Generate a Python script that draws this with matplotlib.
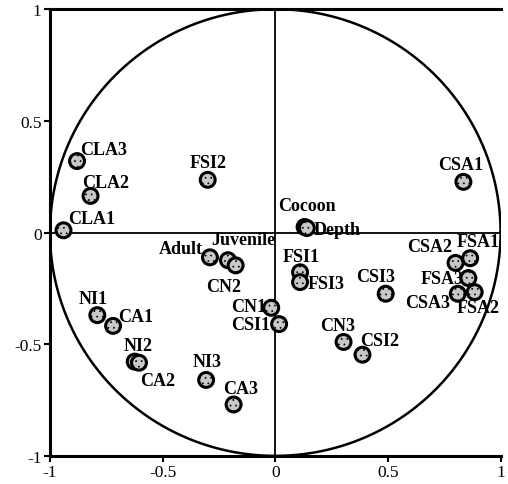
import matplotlib.pyplot as plt
import numpy as np

plt.rcParams['font.family'] = ['Liberation Serif', 'DejaVu Serif']
plt.rcParams['axes.unicode_minus'] = False
plt.rcParams['hatch.linewidth'] = 0.5

# variable coordinates on the correlation circle
labels = ['CLA3', 'CLA2', 'CLA1', 'FSI2', 'CSA1', 'Cocoon', 'Depth',
          'Adult', 'Juvenile', 'CN2', 'NI1', 'CA1', 'NI2', 'CA2', 'NI3', 'CA3',
          'CN1', 'CSI1', 'FSI1', 'FSI3', 'CSI3', 'CSA2', 'FSA1', 'FSA3',
          'CSA3', 'FSA2', 'CN3', 'CSI2']
x_vals = [-0.88, -0.82, -0.94, -0.30, 0.835, 0.13, 0.14,
          -0.29, -0.21, -0.176, -0.79, -0.72, -0.624, -0.605, -0.307, -0.185,
          -0.018, 0.017, 0.11, 0.11, 0.49, 0.80, 0.865, 0.857,
          0.81, 0.885, 0.303, 0.387]
y_vals = [0.32, 0.164, 0.01, 0.236, 0.227, 0.025, 0.02,
          -0.111, -0.124, -0.147, -0.37, -0.418, -0.578, -0.583, -0.66, -0.77,
          -0.337, -0.41, -0.178, -0.222, -0.274, -0.136, -0.115, -0.204,
          -0.274, -0.267, -0.49, -0.547]

# label placement: (dx, dy in pixels, ha, va)
placement = {
    'CLA3': (3, 3, 'left', 'bottom'), 'CLA2': (-8, 5, 'left', 'bottom'),
    'CLA1': (5, 3, 'left', 'bottom'), 'FSI2': (0, 9, 'center', 'bottom'),
    'CSA1': (-3, 9, 'center', 'bottom'), 'Cocoon': (-26, 13, 'left', 'bottom'),
    'Depth': (7, -1, 'left', 'center'), 'Adult': (-7, 0, 'right', 'bottom'),
    'Juvenile': (-17, 12, 'left', 'bottom'), 'CN2': (-12, -13, 'center', 'top'),
    'NI1': (-4, 8, 'center', 'bottom'), 'CA1': (5, 9, 'left', 'center'),
    'NI2': (3, 8, 'center', 'bottom'), 'CA2': (1, -9, 'left', 'top'),
    'NI3': (1, 10, 'center', 'bottom'), 'CA3': (-10, 8, 'left', 'bottom'),
    'CN1': (-5, 1, 'right', 'center'), 'CSI1': (-9, 0, 'right', 'center'),
    'FSI1': (1, 7, 'center', 'bottom'), 'FSI3': (8, -1, 'left', 'center'),
    'CSI3': (-10, 9, 'center', 'bottom'), 'CSA2': (-3, 8, 'right', 'bottom'),
    'FSA1': (-14, 8, 'left', 'bottom'), 'FSA3': (-5, 0, 'right', 'center'),
    'CSA3': (-8, -9, 'right', 'center'), 'FSA2': (-18, -15, 'left', 'center'),
    'CN3': (-6, 8, 'center', 'bottom'), 'CSI2': (-2, 6, 'left', 'bottom'),
}

fig = plt.figure(figsize=(5.08, 4.85), dpi=100)
ax = fig.add_axes([0.0984, 0.058, 0.887, 0.921])

theta = np.linspace(0, 2 * np.pi, 400)
ax.plot(np.cos(theta), np.sin(theta), color='black', lw=1.8)
ax.axhline(0, color='black', lw=1.3)
ax.axvline(0, color='black', lw=1.3)

ax.scatter(x_vals, y_vals, s=115, facecolor='#c8c8c8', edgecolor='black',
           linewidths=2.2, zorder=3, hatch='...')

for lab, x, y in zip(labels, x_vals, y_vals):
    dx, dy, ha, va = placement[lab]
    ax.annotate(lab, (x, y), xytext=(dx, dy), textcoords='offset pixels',
                ha=ha, va=va, fontsize=13, fontweight='bold')

ax.set_xlim(-1, 1)
ax.set_ylim(-1, 1)
ax.set_xticks([-1, -0.5, 0, 0.5, 1])
ax.set_yticks([-1, -0.5, 0, 0.5, 1])
ax.set_xticklabels(['-1', '-0.5', '0', '0.5', '1'])
ax.set_yticklabels(['-1', '-0.5', '0', '0.5', '1'])
ax.tick_params(direction='out', length=4, width=1.5, labelsize=12.5, pad=2)
for side in ['left', 'bottom', 'top']:
    ax.spines[side].set_linewidth(2.2)
ax.spines['right'].set_visible(False)

plt.savefig('out.png', dpi=100)
